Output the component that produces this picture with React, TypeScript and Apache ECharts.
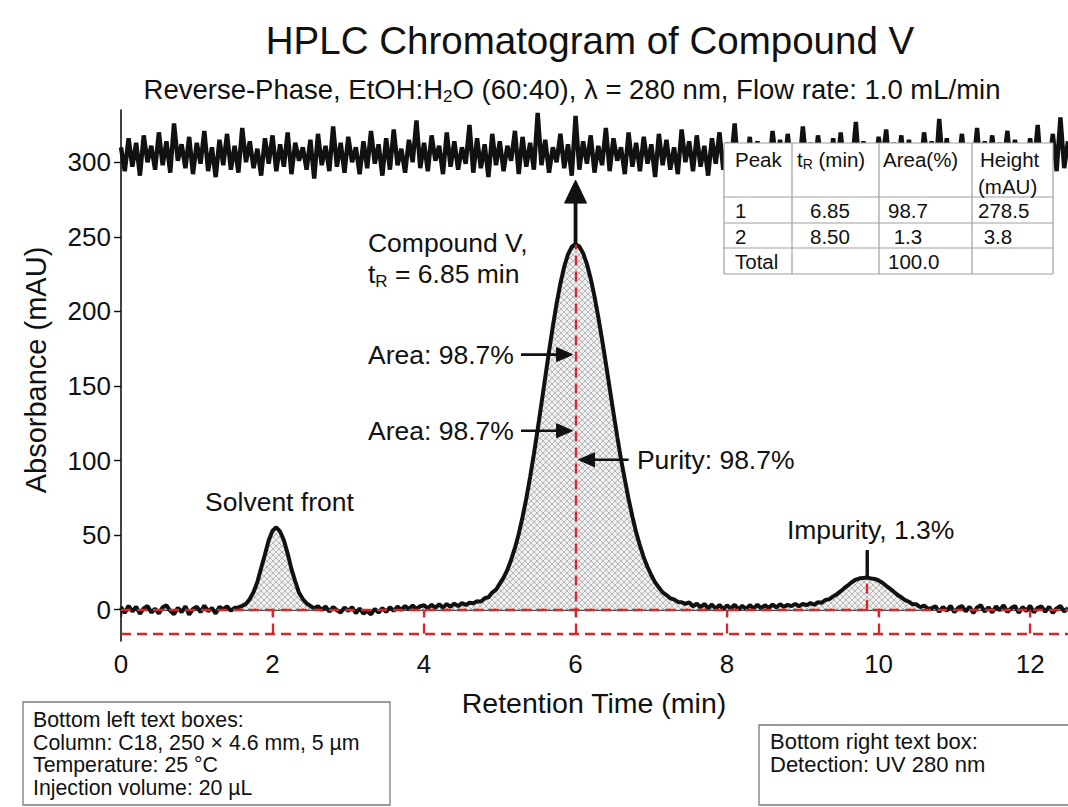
import React, { useEffect, useRef } from 'react';
import * as echarts from 'echarts';

const FONT = '"Liberation Sans", Arial, Helvetica, sans-serif';
const INK = '#111111';
const RED = '#d8262b';

// detector samples every 0.05 min from 0 to 12.5 min
const SAMPLE_STEP = 0.05;

// main trace (mAU)
const chromatogram = [
  1.8, -2.2, 2.6, -1.2, 2.0, -2.8, 0.9, 2.5, -1.9, 0.6,
  -2.5, 1.6, 2.9, -0.8, -3.1, 1.3, -1.6, 2.3, -3.3, 0.5,
  2.0, -1.7, 2.8, -1.0, 1.2, -2.6, 1.9, 0.3, 2.2, -0.7,
  1.3, 1.5, 2.6, 3.9, 7.2, 11.9, 18.5, 27.9, 37.0, 46.6,
  52.9, 55.2, 52.4, 46.5, 37.6, 27.2, 19.0, 11.3, 7.1, 4.3,
  2.5, 0.9, 2.4, -0.2, 2.1, -1.3, 1.8, -0.4, -1.9, 1.4,
  -0.8, 1.7, -2.3, 0.8, -2.6, -0.9, -3.2, 0.5, -2.0, 1.1,
  -1.5, 1.6, -0.8, 2.1, -0.2, 2.5, 0.3, 2.8, 0.5, 2.3,
  3.0, 0.9, 3.3, 1.2, 3.6, 1.5, 3.8, 1.9, 4.1, 2.4,
  4.5, 3.1, 4.6, 4.3, 5.6, 5.4, 7.7, 8.3, 11.5, 13.4,
  17.5, 21.5, 26.7, 33.5, 41.4, 50.8, 62.0, 74.6, 88.9, 104.4,
  120.9, 138.2, 155.8, 173.2, 189.9, 205.2, 218.7, 229.9, 238.2, 243.3,
  245.0, 243.5, 239.0, 231.7, 221.9, 210.0, 196.2, 181.1, 165.1, 148.6,
  132.2, 116.1, 100.8, 87.3, 74.2, 62.5, 51.8, 42.9, 35.0, 28.6,
  23.1, 18.3, 14.9, 11.6, 9.8, 7.6, 6.9, 5.2, 5.0, 3.9,
  4.9, 2.3, 4.1, 1.6, 3.9, 0.9, 3.5, 0.6, 3.2, 0.4,
  2.9, 0.6, 3.4, 0.1, 2.6, 0.4, 3.1, 0.7, 3.3, 1.0,
  3.0, 1.1, 3.5, 1.5, 3.7, 1.9, 3.2, 2.4, 3.9, 2.3,
  3.9, 3.0, 4.4, 3.3, 5.0, 4.7, 6.5, 7.1, 8.9, 10.4,
  12.4, 14.6, 16.5, 18.6, 20.2, 21.0, 21.3, 21.5, 21.0, 20.6,
  19.6, 18.1, 16.0, 14.1, 12.0, 9.9, 8.3, 6.4, 5.3, 3.6,
  3.6, 1.6, 2.8, 0.6, 0.9, 2.4, -1.5, 1.9, -0.8, 2.6,
  -1.7, 1.2, 2.5, -1.2, 2.0, -2.3, 1.5, 2.9, -1.4, 1.6,
  -1.9, 2.2, -0.4, 3.0, -1.6, 1.1, 2.4, -2.1, 1.8, -0.9,
  2.7, -1.8, 1.3, 2.3, -1.5, 2.0, -2.2, 0.9, 2.5, -1.3,
  1.1,
];

// noisy trace near the top of the plot (mAU)
const upperTrace = [
  310, 294, 316, 297, 313, 291, 318, 300, 311, 295,
  320, 298, 314, 293, 326, 301, 312, 296, 317, 292,
  313, 299, 321, 294, 310, 290, 315, 298, 319, 295,
  311, 293, 323, 300, 314, 296, 309, 291, 316, 299,
  318, 294, 312, 297, 320, 292, 313, 301, 310, 295,
  315, 289, 319, 298, 311, 294, 324, 297, 313, 293,
  317, 300, 310, 292, 314, 296, 321, 299, 312, 291,
  316, 295, 322, 298, 309, 293, 315, 300, 328, 296,
  313, 294, 318, 301, 311, 292, 320, 297, 314, 295,
  310, 299, 325, 293, 316, 296, 312, 290, 319, 298,
  314, 294, 311, 301, 321, 292, 317, 297, 313, 295,
  333, 298, 315, 293, 310, 300, 319, 296, 312, 291,
  331, 295, 314, 299, 318, 293, 311, 298, 323, 294,
  316, 301, 310, 292, 320, 297, 313, 294, 317, 299,
  312, 290, 319, 298, 315, 295, 310, 292, 322, 300,
  314, 294, 318, 297, 311, 291, 316, 299, 320, 295,
  313, 298, 326, 293, 312, 296, 317, 290, 314, 301,
  310, 294, 321, 299, 315, 292, 319, 297, 312, 295,
  324, 298, 313, 293, 318, 300, 311, 291, 316, 296,
  320, 295, 312, 299, 327, 292, 314, 297, 310, 294,
  317, 301, 322, 293, 313, 296, 318, 290, 315, 298,
  311, 295, 320, 300, 314, 292, 329, 297, 316, 294,
  312, 299, 319, 293, 310, 297, 323, 291, 314, 296,
  318, 294, 313, 300, 321, 293, 315, 298, 311, 295,
  316, 297, 325, 292, 312, 299, 319, 294, 330, 296,
  314,
];

const xTicks = [0, 2, 4, 6, 8, 10, 12];
const yTicks = [0, 50, 100, 150, 200, 250, 300];
const timeRange = [0, 12.5];
const absorbanceRange = [-21, 335];

const baselineLevels = [0, -16];
const dropLineTimes = [2, 4, 8, 10, 12];
const peakTimes = [2.05, 6.0, 9.85];
const peakHeights = [55, 245, 21.5];

const tableHeader = ['Peak', 't_R (min)', 'Area(%)', 'Height', '(mAU)'];
const tableRows = [
  ['1', '6.85', '98.7', '278.5'],
  ['2', '8.50', ' 1.3', ' 3.8'],
  ['Total', '', '100.0', ''],
];

const titleText = 'HPLC Chromatogram of Compound V';
const leftBoxLines = [
  'Bottom left text boxes:',
  'Column: C18, 250 × 4.6 mm, 5 µm',
  'Temperature: 25 °C',
  'Injection volume: 20 µL',
];
const rightBoxLines = ['Bottom right text box:', 'Detection: UV 280 nm'];

function makeHatch() {
  const c = document.createElement('canvas');
  c.width = 6;
  c.height = 6;
  const g = c.getContext('2d');
  if (g) {
    g.fillStyle = '#efefef';
    g.fillRect(0, 0, 6, 6);
    g.strokeStyle = '#a8a8a8';
    g.lineWidth = 0.8;
    g.beginPath();
    g.moveTo(0, 0);
    g.lineTo(6, 6);
    g.moveTo(6, 0);
    g.lineTo(0, 6);
    g.stroke();
  }
  return c;
}

function txt(x: number, y: number, text: string, fontSize: number, align = 'left', extra: any = {}) {
  return {
    type: 'text',
    x,
    y,
    z: 60,
    silent: true,
    ...extra,
    style: {
      text,
      fill: INK,
      fontSize,
      fontFamily: FONT,
      align,
      verticalAlign: 'middle',
      textAlign: align,
      textVerticalAlign: 'middle',
      ...(extra.style || {}),
    },
  };
}

function buildOption() {
  const trace = chromatogram.map((v, i) => [+(i * SAMPLE_STEP).toFixed(2), v]);
  const upper = upperTrace.map((v, i) => [+(i * SAMPLE_STEP).toFixed(2), v]);
  const hatch = makeHatch();

  const segs: any[] = [];
  baselineLevels.forEach((lv) => {
    segs.push([{ coord: [timeRange[0], lv] }, { coord: [timeRange[1], lv] }]);
  });
  dropLineTimes.forEach((t) => {
    segs.push([{ coord: [t, baselineLevels[1]] }, { coord: [t, baselineLevels[0]] }]);
  });
  segs.push([{ coord: [peakTimes[1], baselineLevels[1]] }, { coord: [peakTimes[1], peakHeights[1]] }]);
  segs.push([{ coord: [peakTimes[2], baselineLevels[0]] }, { coord: [peakTimes[2], peakHeights[2]] }]);

  const axisText = { color: INK, fontSize: 26, fontFamily: FONT };
  return {
    animation: false,
    backgroundColor: '#ffffff',
    grid: { left: 121, top: 110, width: 947, height: 531 },
    xAxis: {
      type: 'value',
      min: timeRange[0],
      max: timeRange[1],
      interval: 2,
      axisLine: { show: true, lineStyle: { color: INK, width: 1.6 } },
      axisTick: { show: true, length: 7, lineStyle: { color: INK, width: 1.4 }, customValues: xTicks },
      axisLabel: { ...axisText, margin: 10, customValues: xTicks },
      splitLine: { show: false },
    },
    yAxis: {
      type: 'value',
      min: absorbanceRange[0],
      max: absorbanceRange[1],
      axisLine: { show: true, lineStyle: { color: INK, width: 1.6 } },
      axisTick: { show: true, length: 7, lineStyle: { color: INK, width: 1.4 }, customValues: yTicks },
      axisLabel: { ...axisText, margin: 10, customValues: yTicks },
      splitLine: { show: false },
    },
    series: [
      {
        type: 'line',
        data: upper,
        symbol: 'none',
        z: 2,
        lineStyle: { color: INK, width: 4.4, join: 'miter' },
        silent: true,
      },
      {
        type: 'line',
        data: trace,
        symbol: 'none',
        z: 2,
        lineStyle: { color: INK, width: 4 },
        areaStyle: {
          color: { image: hatch, repeat: 'repeat', imageWidth: 6, imageHeight: 6 },
          opacity: 1,
        },
        silent: true,
      },
      {
        type: 'line',
        data: [],
        z: 3,
        silent: true,
        markLine: {
          silent: true,
          symbol: ['none', 'none'],
          label: { show: false },
          lineStyle: { color: RED, width: 2.3, type: [10, 6] },
          emphasis: { disabled: true },
          data: segs,
        },
      },
    ],
  };
}

function buildGraphics(px: (t: number, v: number) => number[]) {
  const g: any[] = [];
  const black = { fill: INK, stroke: INK };
  const AF = 26.5;

  // title & subtitle
  g.push(txt(590, 40, titleText, 38.5, 'center'));
  g.push({
    type: 'text',
    x: 572,
    y: 89,
    z: 60,
    silent: true,
    style: {
      text: '{a|Reverse-Phase, EtOH:H}{b|2}{a|O (60:40), λ = 280 nm, Flow rate: 1.0 mL/min}',
      align: 'center',
      verticalAlign: 'middle',
      textAlign: 'center',
      textVerticalAlign: 'middle',
      rich: {
        a: { fontSize: 27.5, lineHeight: 32, fontFamily: FONT, fill: INK },
        b: { fontSize: 17, lineHeight: 17, fontFamily: FONT, fill: INK, verticalAlign: 'bottom' },
      },
    },
  });

  // axis names
  g.push(txt(594, 703, 'Retention Time (min)', 28.5, 'center'));
  g.push(txt(36, 370, 'Absorbance (mAU)', 29, 'center', { rotation: Math.PI / 2 }));

  // main peak apex arrow
  const apex = px(peakTimes[1], peakHeights[1]);
  const tip = px(peakTimes[1], 288);
  g.push({ type: 'line', z: 55, silent: true, shape: { x1: apex[0], y1: apex[1], x2: tip[0], y2: tip[1] + 20 }, style: { stroke: INK, lineWidth: 3.8 } });
  g.push({ type: 'polygon', z: 55, silent: true, shape: { points: [[tip[0], tip[1]], [tip[0] - 11, tip[1] + 23], [tip[0] + 11, tip[1] + 23]] }, style: black });

  // compound label
  const rich = {
    n: { fontSize: AF, lineHeight: 32, fontFamily: FONT, fill: INK },
    s: { fontSize: 17, lineHeight: 17, fontFamily: FONT, fill: INK, verticalAlign: 'bottom' },
  };
  const c1 = px(3.26, 246);
  g.push(txt(c1[0], c1[1], 'Compound V,', AF));
  const c2 = px(3.26, 225);
  g.push({
    type: 'text', x: c2[0], y: c2[1], z: 60, silent: true,
    style: { text: '{n|t}{s|R}{n| = 6.85 min}', align: 'left', verticalAlign: 'middle', textAlign: 'left', textVerticalAlign: 'middle', rich },
  });

  // area arrows (pointing right at the main peak centre line)
  [171, 120].forEach((lv) => {
    const lp = px(3.26, lv);
    g.push(txt(lp[0], lp[1], 'Area: 98.7%', AF));
    const a0 = px(5.28, lv);
    const a1 = px(peakTimes[1], lv);
    const tx = a1[0] - 3;
    g.push({ type: 'line', z: 55, silent: true, shape: { x1: a0[0], y1: a0[1], x2: tx - 12, y2: a0[1] }, style: { stroke: INK, lineWidth: 2.6 } });
    g.push({ type: 'polygon', z: 55, silent: true, shape: { points: [[tx, a0[1]], [tx - 16, a0[1] - 7], [tx - 16, a0[1] + 7]] }, style: black });
  });

  // purity arrow (pointing left)
  const p0 = px(6.7, 100.5);
  const p1 = px(peakTimes[1], 100.5);
  const ptx = p1[0] + 3;
  g.push({ type: 'line', z: 55, silent: true, shape: { x1: p0[0], y1: p0[1], x2: ptx + 12, y2: p0[1] }, style: { stroke: INK, lineWidth: 2.6 } });
  g.push({ type: 'polygon', z: 55, silent: true, shape: { points: [[ptx, p0[1]], [ptx + 16, p0[1] - 7], [ptx + 16, p0[1] + 7]] }, style: black });
  const pl = px(6.81, 100.5);
  g.push(txt(pl[0], pl[1], 'Purity: 98.7%', AF));

  // solvent front label
  const sl = px(1.11, 72.4);
  g.push(txt(sl[0], sl[1], 'Solvent front', AF));

  // impurity label + leader
  const il = px(8.79, 53.6);
  g.push(txt(il[0], il[1], 'Impurity, 1.3%', AF));
  const i0 = px(peakTimes[2], peakHeights[2]);
  const i1 = px(peakTimes[2], 40);
  g.push({ type: 'line', z: 55, silent: true, shape: { x1: i0[0], y1: i0[1], x2: i1[0], y2: i1[1] }, style: { stroke: INK, lineWidth: 3.4 } });

  // results table
  const colX = [724, 792, 879, 972, 1053];
  const rowY = [143, 197, 223, 248, 274];
  g.push({ type: 'rect', z: 50, silent: true, shape: { x: colX[0], y: rowY[0], width: colX[4] - colX[0], height: rowY[4] - rowY[0] }, style: { fill: '#ffffff', stroke: 'none' } });
  colX.forEach((x) => {
    g.push({ type: 'line', z: 52, silent: true, shape: { x1: x, y1: rowY[0], x2: x, y2: rowY[4] }, style: { stroke: '#a0a0a0', lineWidth: 1.2 } });
  });
  rowY.forEach((y) => {
    g.push({ type: 'line', z: 52, silent: true, shape: { x1: colX[0], y1: y, x2: colX[4], y2: y }, style: { stroke: '#a0a0a0', lineWidth: 1.2 } });
  });
  const tf = 20.5;
  g.push(txt(735, 159, tableHeader[0], tf));
  g.push({
    type: 'text', x: 797, y: 159, z: 60, silent: true,
    style: {
      text: '{n|t}{s|R}{n| (min)}', align: 'left', verticalAlign: 'middle', textAlign: 'left', textVerticalAlign: 'middle',
      rich: {
        n: { fontSize: tf, lineHeight: 24, fontFamily: FONT, fill: INK },
        s: { fontSize: 14, lineHeight: 14, fontFamily: FONT, fill: INK, verticalAlign: 'bottom' },
      },
    },
  });
  g.push(txt(883, 159, tableHeader[2], tf));
  g.push(txt(980, 159, tableHeader[3], tf));
  g.push(txt(978, 186, tableHeader[4], tf));
  const cellX = [735, 810, 888, 978];
  const cellY = [210, 236, 261];
  tableRows.forEach((row, r) => {
    row.forEach((cell, c) => {
      if (cell) g.push(txt(cellX[c], cellY[r], cell, tf));
    });
  });

  // bottom boxes
  g.push({ type: 'rect', z: 50, silent: true, shape: { x: 23, y: 702, width: 367, height: 103 }, style: { fill: '#ffffff', stroke: '#7a7a7a', lineWidth: 1.3 } });
  g.push({
    type: 'text', x: 33, y: 709, z: 60, silent: true,
    style: { text: leftBoxLines.join('\n'), fill: INK, fontSize: 21.3, fontFamily: FONT, lineHeight: 22.5, align: 'left', verticalAlign: 'top', textAlign: 'left', textVerticalAlign: 'top' },
  });
  g.push({ type: 'rect', z: 50, silent: true, shape: { x: 759, y: 725, width: 314, height: 80 }, style: { fill: '#ffffff', stroke: '#7a7a7a', lineWidth: 1.3 } });
  g.push({
    type: 'text', x: 770, y: 730, z: 60, silent: true,
    style: { text: rightBoxLines.join('\n'), fill: INK, fontSize: 22, fontFamily: FONT, lineHeight: 23, align: 'left', verticalAlign: 'top', textAlign: 'left', textVerticalAlign: 'top' },
  });

  return g;
}

export default function App() {
  const ref = useRef<HTMLDivElement>(null);
  useEffect(() => {
    document.body.style.margin = '0';
    if (!ref.current) return;
    const chart = echarts.init(ref.current, null, { renderer: 'svg' });
    chart.setOption(buildOption() as any);
    const px = (t: number, v: number) =>
      chart.convertToPixel({ xAxisIndex: 0, yAxisIndex: 0 }, [t, v]) as unknown as number[];
    chart.setOption({ graphic: buildGraphics(px) } as any);
    return () => chart.dispose();
  }, []);
  return <div ref={ref} style={{ width: 1068, height: 807 }} />;
}
